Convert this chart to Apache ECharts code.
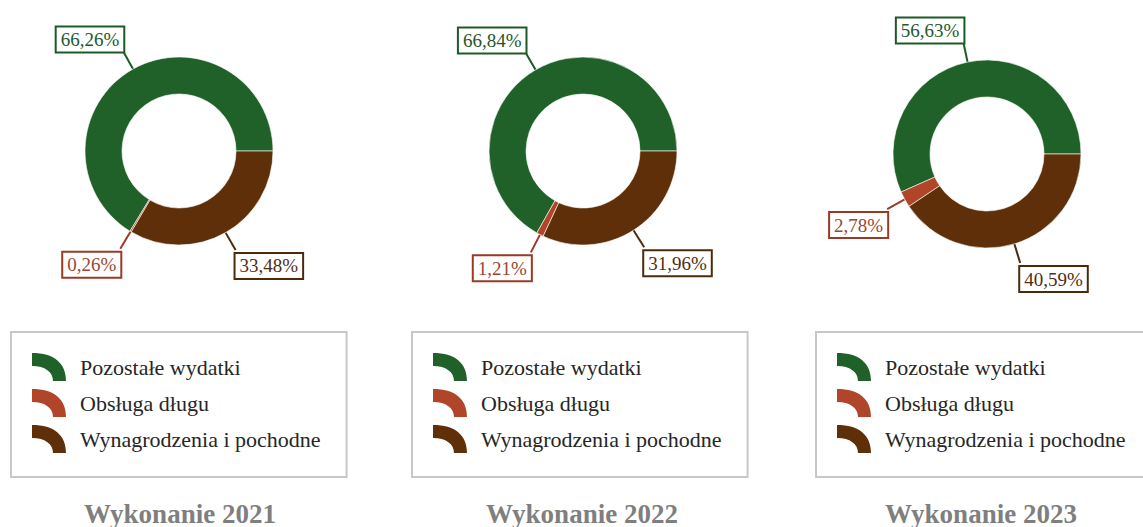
<!DOCTYPE html>
<html>
<head>
<meta charset="utf-8">
<script src="https://cdn.jsdelivr.net/npm/echarts@6/dist/echarts.min.js"></script>
<style>
  html, body { margin: 0; padding: 0; background: #fff; }
  #chart { width: 1143px; height: 527px; }
</style>
</head>
<body>
<div id="chart"></div>
<script>
// kategorie i wartości (%)
const categories = ['Pozostałe wydatki', 'Obsługa długu', 'Wynagrodzenia i pochodne']
const years = ['Wykonanie 2021', 'Wykonanie 2022', 'Wykonanie 2023']
const values2021 = [66.26, 0.26, 33.48]
const values2022 = [66.84, 1.21, 31.96]
const values2023 = [56.63, 2.78, 40.59]

const sliceColors = ['#1f6129', '#b0452a', '#5f2f09']
const lineColors = ['#1c5a27', '#9a3a24', '#4d2a0c']
const textColors = ['#23582c', '#9c4632', '#4f2e14']

const centers = [[179, 151], [583, 151], [987, 154]]
const legendLeft = [11, 412, 816]
const titleX = [180, 582, 981]
const FONT = '"Liberation Serif", "Times New Roman", serif'

// ikona legendy - ćwiartka pierścienia (krzywe Beziera)
const arcIcon = 'path://M0,0 C22,0 34,10 34,28 L21,28 C21,19 13,13 0,13 Z'

function fmt (v) {
  return v.toFixed(2).replace('.', ',') + '%'
}

function buildData (values) {
  return values.map((v, i) => ({
    name: categories[i],
    value: v,
    itemStyle: { color: sliceColors[i] },
    label: { color: textColors[i], borderColor: lineColors[i] },
    labelLine: { lineStyle: { color: lineColors[i] } }
  }))
}

let chart = echarts.init(document.getElementById('chart'), null, { renderer: 'svg' })

let series = [values2021, values2022, values2023].map((vals, k) => ({
  name: years[k],
  type: 'pie',
  center: centers[k],
  radius: [57, 94],
  startAngle: 0,
  clockwise: false,
  avoidLabelOverlap: false,
  itemStyle: { borderColor: 'rgba(255,255,255,0.6)', borderWidth: 1 },
  label: {
    show: true,
    position: 'outside',
    formatter: p => fmt(p.value),
    fontFamily: FONT,
    fontSize: 19,
    backgroundColor: '#fff',
    borderWidth: 2,
    padding: [3, 4, 2, 4],
    distanceToLabelLine: 0
  },
  labelLine: { show: true, length: 20, length2: 0, lineStyle: { width: 2 } },
  labelLayout: function (params) {
    let r = params.labelRect
    let above = r.y + r.height / 2 < centers[k][1]
    return { dy: (above ? -r.height / 2 : r.height / 2) + 2 }
  },
  emphasis: { disabled: true },
  data: buildData(vals)
}))

let legends = legendLeft.map(x => ({
  orient: 'vertical',
  left: x,
  top: 332,
  padding: [21, 26, 24, 21],
  borderColor: '#c8c8c8',
  borderWidth: 2,
  itemWidth: 34,
  itemHeight: 28,
  itemGap: 8,
  icon: arcIcon,
  itemStyle: { borderWidth: 0 },
  selectedMode: false,
  textStyle: { fontFamily: FONT, fontSize: 22, color: '#262626', padding: [0, 0, 0, 9] },
  data: categories
}))

let titles = years.map((t, k) => ({
  type: 'text',
  x: titleX[k],
  y: 514,
  style: {
    text: t,
    align: 'center',
    verticalAlign: 'middle',
    fontFamily: FONT,
    fontSize: 27,
    fontWeight: 'bold',
    fill: '#7f7f7f'
  }
}))

chart.setOption({
  animation: false,
  legend: legends,
  graphic: titles,
  series: series
})
</script>
</body>
</html>
